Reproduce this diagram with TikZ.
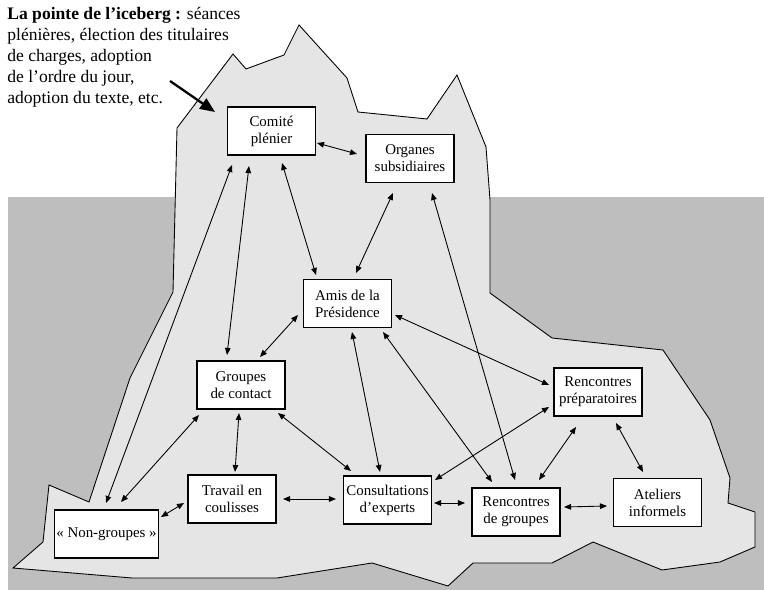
\documentclass[tikz,border=0pt]{standalone}
\usepackage{fontspec}
\setmainfont{Liberation Serif}
\usetikzlibrary{arrows.meta}

\definecolor{seagray}{gray}{0.745}
\definecolor{icegray}{gray}{0.9}

\begin{document}
\begin{tikzpicture}[x=0.02cm, y=-0.02cm,
    box/.style={rectangle, draw, fill=white, line width=0.6pt, minimum width=1.76cm, minimum height=0.96cm,
                inner sep=1pt, align=center, font=\fontsize{8.5}{9.7}\selectfont},
    link/.style={{Triangle[length=4pt,width=3.2pt]}-{Triangle[length=4pt,width=3.2pt]}, line width=0.5pt}]
            \useasboundingbox (0,0) rectangle (764,590);

            % sea and iceberg
            \fill[seagray] (8,197) rectangle (764,590);
            \draw[fill=icegray, line width=0.5pt] (177,128) -- (233,54) -- (246,69) -- (284,55) -- (299,25) -- (347,78)
                -- (358,112) -- (427,119) -- (457,75) -- (486,147) -- (490,200) -- (490,293) -- (552,338)
                -- (663,350) -- (710,420) -- (730,478) -- (728,503) -- (755,512) -- (755,547) -- (720,562)
                -- (662,570) -- (593,542) -- (552,563) -- (473,563) -- (448,586) -- (372,563) -- (277,578)
                -- (132,578) -- (13,568) -- (43,542) -- (49,485) -- (89,502) -- (130,378) -- (173,292) -- cycle;

            % heading
            \node[anchor=north west, inner sep=0pt, align=left, font=\fontsize{10}{11.9}\selectfont] (T) at (7,7)
                {\textbf{La pointe de l’iceberg :} séances\\ plénières, élection des titulaires\\ de charges, adoption\\
                 de l’ordre du jour,\\ adoption du texte, etc.};
            \coordinate (T1) at (170,81);
            \coordinate (T2) at (215,112);
            \draw[-{Triangle[length=8.5pt,width=7pt]}, line width=1.3pt] (T1) -- (T2);

            \node[box] (CP) at (271.5,131) {Comité\\ plénier};
            \node[box] (OS) at (410,158.5) {Organes\\ subsidiaires};
            \node[box] (AP) at (347.5,303.5) {Amis de la\\ Présidence};
            \node[box] (GC) at (241,385) {Groupes\\ de contact};
            \node[box] (RP) at (598,392) {Rencontres\\ préparatoires};
            \node[box, minimum width=2.02cm] (NG) at (106.5,534) {« Non-groupes »};
            \node[box] (TC) at (232,499) {Travail en\\ coulisses};
            \node[box] (CE) at (387.5,500) {Consultations\\ d’experts};
            \node[box] (RG) at (516,512) {Rencontres\\ de groupes};
            \node[box] (AI) at (657.5,502.5) {Ateliers\\ informels};

            \draw[link] ([shift={(45.5,12)}]CP.center) -- ([shift={(-53,-4.5)}]OS.center);
            \draw[link] ([shift={(-22.5,35)}]CP.center) -- ([shift={(-14,-30)}]GC.center);
            \draw[link] ([shift={(-39.5,34)}]CP.center) -- ([shift={(-0.5,-31)}]NG.center);
            \draw[link] ([shift={(10.5,32)}]CP.center) -- ([shift={(-31.5,-28.5)}]AP.center);
            \draw[link] ([shift={(-17,34.5)}]OS.center) -- ([shift={(8.5,-30.5)}]AP.center);
            \draw[link] ([shift={(22,34.5)}]OS.center) -- ([shift={(-1,-32)}]RG.center);
            \draw[link] ([shift={(-49.5,11.5)}]AP.center) -- ([shift={(19,-28)}]GC.center);
            \draw[link] ([shift={(47.5,11.5)}]AP.center) -- ([shift={(-49,-7)}]RP.center);
            \draw[link] ([shift={(35.5,28.5)}]AP.center) -- ([shift={(-24,-30)}]RG.center);
            \draw[link] ([shift={(4.5,28.5)}]AP.center) -- ([shift={(-7.5,-28)}]CE.center);
            \draw[link] ([shift={(-42,30)}]GC.center) -- ([shift={(14.5,-32)}]NG.center);
            \draw[link] ([shift={(-2,28)}]GC.center) -- ([shift={(3,-27)}]TC.center);
            \draw[link] ([shift={(37,28)}]GC.center) -- ([shift={(-36.5,-29)}]CE.center);
            \draw[link] ([shift={(54.5,-17)}]NG.center) -- ([shift={(-48,4)}]TC.center);
            \draw[link] ([shift={(51,0)}]TC.center) -- ([shift={(-51.5,-1)}]CE.center);
            \draw[link] ([shift={(46.5,3)}]CE.center) -- ([shift={(-51,-9)}]RG.center);
            \draw[link] ([shift={(47.5,-20)}]CE.center) -- ([shift={(-49,15)}]RP.center);
            \draw[link] ([shift={(23,-32)}]RG.center) -- ([shift={(-22,35)}]RP.center);
            \draw[link] ([shift={(18,31)}]RP.center) -- ([shift={(-14.5,-30.5)}]AI.center);
            \draw[link] ([shift={(48,-5)}]RG.center) -- ([shift={(-50.5,3.5)}]AI.center);
        \end{tikzpicture}
\end{document}
